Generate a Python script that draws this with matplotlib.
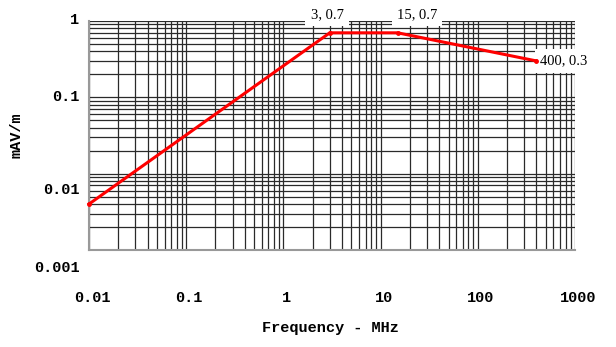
import matplotlib
matplotlib.use("Agg")
import matplotlib.pyplot as plt
import matplotlib.transforms as mtransforms
import numpy as np

freq = [0.01, 3, 15, 400]
level = [0.004, 0.7, 0.7, 0.3]
labels = ["", "3, 0.7", "15, 0.7", "400, 0.3"]
xticks = [0.01, 0.1, 1, 10, 100, 1000]
xticklabels = ["0.01", "0.1", "1", "10", "100", "1000"]
yticks = [0.001, 0.01, 0.1, 1]
yticklabels = ["0.001", "0.01", "0.1", "1"]

fig = plt.figure(figsize=(6.16, 3.47), dpi=100)
ax = fig.add_axes([89/616, 1-250/347, (575-89)/616, (250-21)/347])
ax.set_xscale("log")
ax.set_yscale("log")
ax.set_xlim(0.01, 1000)
ax.set_ylim(0.001, 1)

ax.grid(True, which="both", color="#2a2a2a", lw=0.9)
ax.set_axisbelow(True)

for s in ["top", "right"]:
    ax.spines[s].set_visible(False)
for s in ["bottom", "left"]:
    ax.spines[s].set_color("#999999")
    ax.spines[s].set_linewidth(1.5)

ax.plot(freq, level, color="#ff0000", lw=2.2, marker="o", ms=2.5, zorder=5, clip_on=False)

mono = dict(family="Liberation Mono", weight="bold", size=11)
ax.set_xticks(xticks)
ax.set_xticklabels(xticklabels, **mono)
ax.set_yticks(yticks)
ax.set_yticklabels(yticklabels, **mono)
ax.tick_params(which="both", length=0)
ax.tick_params(axis="x", pad=29.5)
ax.tick_params(axis="y", pad=7)

# vertical offsets of tick labels as in reference
yoff = [-16, -15, 2, 3]
for lab, dy in zip(ax.get_yticklabels(), yoff):
    lab.set_transform(lab.get_transform() + mtransforms.ScaledTranslation(0, dy/100, fig.dpi_scale_trans))
for lab in ax.get_xticklabels():
    lab.set_transform(lab.get_transform() + mtransforms.ScaledTranslation(3/100, 0, fig.dpi_scale_trans))

ax.set_xlabel("Frequency - MHz", family="Liberation Mono", weight="bold", size=11)
ax.xaxis.set_label_coords(0.496, -0.31)
ax.set_ylabel("mAV/m", family="Liberation Mono", weight="bold", size=11)
ax.yaxis.set_label_coords(-0.135, 0.5)

serif = dict(family="Liberation Serif", size=10.5)
box = dict(facecolor="white", edgecolor="none", boxstyle="square,pad=0.35")
ax.annotate(labels[1], (freq[1], level[1]), xytext=(-2, 13), textcoords="offset points",
            ha="center", va="center", bbox=box, annotation_clip=False, **serif)
ax.annotate(labels[2], (freq[2], level[2]), xytext=(14, 13), textcoords="offset points",
            ha="center", va="center", bbox=box, annotation_clip=False, **serif)
ax.annotate(labels[3], (freq[3], level[3]), xytext=(3, 0), textcoords="offset points",
            ha="left", va="center", bbox=box, annotation_clip=False, **serif)

fig.savefig("out.png", dpi=100)
